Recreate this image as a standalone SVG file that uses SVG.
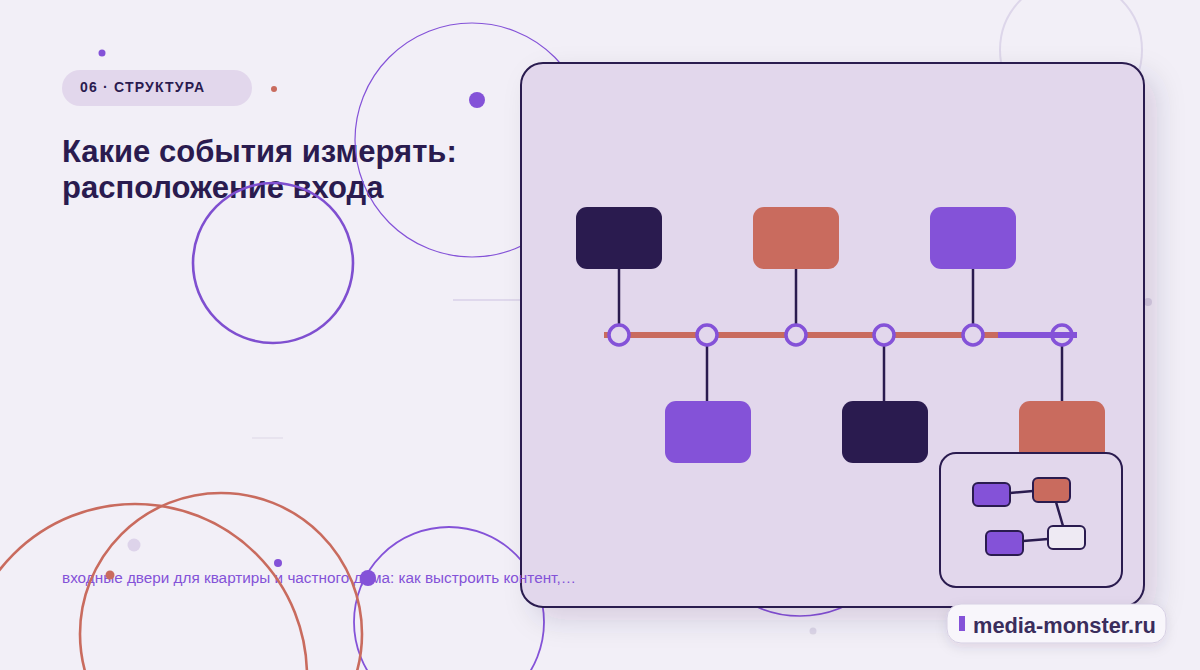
<svg xmlns="http://www.w3.org/2000/svg" width="1200" height="670" viewBox="0 0 1200 670">
  <defs>
    <style>
      .title{font-family:"Liberation Sans",Arial,sans-serif;font-weight:700;font-size:31px;fill:#2a1b4f}
      .badge{font-family:"Liberation Sans",Arial,sans-serif;font-weight:700;font-size:14px;fill:#2a1b4f;letter-spacing:1.2px}
      .sub{font-family:"Liberation Sans",Arial,sans-serif;font-size:15.3px;fill:#8452d8}
      .wm{font-family:"Liberation Sans",Arial,sans-serif;font-weight:700;font-size:21.8px;fill:#3a2d5c}
      .node{stroke:none}
      .dark{fill:#2a1b4f}
      .orange{fill:#c96b5e}
      .purple{fill:#8452d8}
      .conn{stroke:#2a1b4f;stroke-width:2.5;fill:none}
      .ring{fill:#e2d7ec;stroke:#8452d8;stroke-width:3.5}
      .mini{stroke:#2a1b4f;stroke-width:2}
    </style>
    <filter id="sh" x="-10%" y="-10%" width="130%" height="130%">
      <feDropShadow dx="12" dy="12" stdDeviation="14" flood-color="#2a1b4f" flood-opacity="0.14"/>
    </filter>
    <filter id="sh2" x="-20%" y="-40%" width="140%" height="200%">
      <feDropShadow dx="0" dy="4" stdDeviation="6" flood-color="#2a1b4f" flood-opacity="0.10"/>
    </filter>
  </defs>

  <rect width="1200" height="670" fill="#f2eff7"/>

  <!-- header -->
  <g id="badge">
    <rect x="62" y="70" width="190" height="36" rx="18" fill="#e2d7ec"/>
    <text class="badge" x="80" y="92">06 · СТРУКТУРА</text>
  </g>
  <g id="title">
    <text class="title" x="62" y="162">Какие события измерять:</text>
    <text class="title" x="62" y="198">расположение входа</text>
  </g>

  <!-- background decorations (behind panel) -->
  <g id="decor-back" fill="none">
    <circle cx="1071" cy="50" r="71" stroke="#ddd6ea" stroke-width="2"/>
    <circle cx="472" cy="140" r="117" stroke="#8452d8" stroke-width="1.2"/>
    <circle cx="273" cy="263" r="80" stroke="#7f4fd0" stroke-width="2.6"/>
    <circle cx="449" cy="622" r="95" stroke="#8452d8" stroke-width="1.8"/>
    <circle cx="800" cy="509" r="107" stroke="#8452d8" stroke-width="1.6"/>
    <line x1="453" y1="300" x2="530" y2="300" stroke="#d9d1e8" stroke-width="1.5"/>
    <line x1="252" y1="438" x2="283" y2="438" stroke="#ddd7e6" stroke-width="1"/>
    <circle cx="102" cy="53" r="3.5" fill="#8452d8"/>
    <circle cx="274" cy="89" r="3" fill="#c96b5e"/>
    <circle cx="477" cy="100" r="8" fill="#8452d8"/>
    <circle cx="1148" cy="302" r="4" fill="#d8d2e4"/>
    <circle cx="813" cy="631" r="3.5" fill="#dcd6e6"/>
  </g>

  <!-- panel -->
  <g id="panel">
    <rect x="521" y="63" width="623" height="544" rx="22" fill="#e2d7ec" stroke="#2a1b4f" stroke-width="2" filter="url(#sh)"/>
  </g>

  <!-- connectors -->
  <g id="connectors">
    <line x1="604" y1="335" x2="1000" y2="335" stroke="#c96b5e" stroke-width="6"/>
    <line class="conn" x1="619" y1="269" x2="619" y2="324"/>
    <line class="conn" x1="796" y1="269" x2="796" y2="324"/>
    <line class="conn" x1="973" y1="269" x2="973" y2="324"/>
    <line class="conn" x1="707" y1="346" x2="707" y2="401"/>
    <line class="conn" x1="884" y1="346" x2="884" y2="401"/>
    <line class="conn" x1="1062" y1="346" x2="1062" y2="401"/>
  </g>

  <!-- timeline stops -->
  <g id="stops">
    <circle class="ring" cx="619" cy="335" r="10"/>
    <circle class="ring" cx="707" cy="335" r="10"/>
    <circle class="ring" cx="796" cy="335" r="10"/>
    <circle class="ring" cx="884" cy="335" r="10"/>
    <circle class="ring" cx="973" cy="335" r="10"/>
    <circle class="ring" cx="1062" cy="335" r="10"/>
    <line x1="998" y1="335" x2="1077" y2="335" stroke="#8452d8" stroke-width="6"/>
  </g>

  <!-- nodes -->
  <g id="node-top-1"><rect class="node dark" x="576" y="207" width="86" height="62" rx="11"/></g>
  <g id="node-top-2"><rect class="node orange" x="753" y="207" width="86" height="62" rx="11"/></g>
  <g id="node-top-3"><rect class="node purple" x="930" y="207" width="86" height="62" rx="11"/></g>
  <g id="node-bottom-1"><rect class="node purple" x="665" y="401" width="86" height="62" rx="11"/></g>
  <g id="node-bottom-2"><rect class="node dark" x="842" y="401" width="86" height="62" rx="11"/></g>
  <g id="node-bottom-3"><rect class="node orange" x="1019" y="401" width="86" height="62" rx="11"/></g>

  <!-- inset mini map -->
  <g id="inset">
    <rect x="940" y="453" width="182" height="134" rx="16" fill="#e2d7ec" stroke="#2a1b4f" stroke-width="2"/>
    <g class="inset-links">
      <line class="conn" x1="1010" y1="493" x2="1033" y2="491"/>
      <line class="conn" x1="1056" y1="502" x2="1063" y2="526"/>
      <line class="conn" x1="1023" y1="541" x2="1048" y2="539"/>
    </g>
    <rect class="mini purple" x="973" y="483" width="37" height="23" rx="5"/>
    <rect class="mini orange" x="1033" y="478" width="37" height="24" rx="5"/>
    <rect class="mini" fill="#eeeaf3" x="1048" y="526" width="37" height="23" rx="5"/>
    <rect class="mini purple" x="986" y="531" width="37" height="24" rx="5"/>
  </g>

  <!-- subtitle -->
  <g id="subtitle">
    <text class="sub" x="62" y="583">входные двери для квартиры и частного дома: как выстроить контент,…</text>
  </g>

  <!-- foreground decorations -->
  <g id="decor-front">
    <circle cx="135" cy="676" r="172" fill="none" stroke="#c96b5e" stroke-width="2.6"/>
    <circle cx="221" cy="634" r="141" fill="none" stroke="#c96b5e" stroke-width="2.6"/>
    <circle cx="134" cy="545" r="6.5" fill="#ddd3ea"/>
    <circle cx="110" cy="575" r="4.5" fill="#c96b5e"/>
    <circle cx="278" cy="563" r="4" fill="#8452d8"/>
    <circle cx="368" cy="578" r="8" fill="#8452d8"/>
  </g>

  <!-- watermark -->
  <g id="watermark">
    <rect x="947" y="604" width="219" height="39" rx="14" fill="#f8f6fb" stroke="#d6cfe3" stroke-width="1" filter="url(#sh2)"/>
    <rect x="959" y="616" width="6" height="15" fill="#8452d8"/>
    <text class="wm" x="973" y="633">media-monster.ru</text>
  </g>
</svg>
